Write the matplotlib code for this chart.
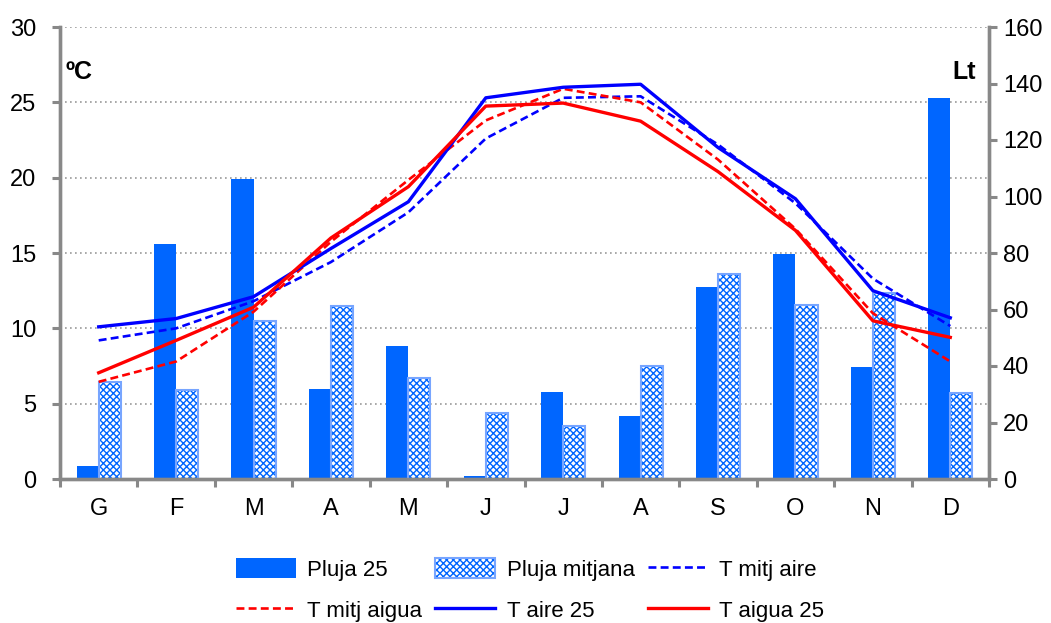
import matplotlib
matplotlib.use("Agg")
import matplotlib.pyplot as plt
import numpy as np
from matplotlib.patches import Patch
from matplotlib.lines import Line2D
from matplotlib.legend_handler import HandlerTuple

plt.rcParams['font.family'] = ['Liberation Sans Narrow', 'Liberation Sans', 'DejaVu Sans']

months = ["G", "F", "M", "A", "M", "J", "J", "A", "S", "O", "N", "D"]

pluja_25 = [4.6, 83.2, 106.2, 31.9, 47.2, 1.0, 30.8, 22.2, 68.1, 79.6, 39.6, 134.8]
pluja_mitjana = [34.4, 31.5, 55.9, 61.3, 35.7, 23.5, 18.8, 40.1, 72.6, 61.6, 65.7, 30.5]

t_mitj_aire = [9.2, 10.0, 11.8, 14.4, 17.7, 22.6, 25.3, 25.4, 22.2, 18.3, 13.3, 10.15]
t_mitj_aigua = [6.45, 7.8, 11.1, 15.75, 19.85, 23.8, 25.9, 25.0, 21.2, 16.6, 11.0, 7.8]
t_aire_25 = [10.1, 10.65, 12.1, 15.3, 18.4, 25.3, 26.0, 26.2, 22.0, 18.6, 12.5, 10.7]
t_aigua_25 = [7.05, 9.2, 11.4, 16.0, 19.4, 24.75, 24.95, 23.75, 20.4, 16.5, 10.5, 9.4]

grey = "#888888"
bar_blue = "#0066FF"
light_edge = "#77A5FF"

fig = plt.figure(figsize=(10.51, 6.23), dpi=100)
ax = fig.add_axes([60 / 1051, 1 - 479 / 623, 929 / 1051, 452 / 623])
ax2 = ax.twinx()

x = np.arange(len(months))
w = 0.285

# bars on the right (Lt) axis, drawn below the lines
ax2.bar(x - w / 2, pluja_25, width=w, color=bar_blue, edgecolor="none", zorder=2)
ax2.bar(x + w / 2, pluja_mitjana, width=w, color="white", edgecolor=bar_blue,
        hatch="xxxxx", linewidth=0, zorder=2)
ax2.bar(x + w / 2, pluja_mitjana, width=w, fill=False, edgecolor=light_edge,
        linewidth=1.5, zorder=3)
ax2.set_ylim(0, 160)
ax2.set_yticks(np.arange(0, 161, 20))

# dotted grid at the left-axis ticks
for t in np.arange(5, 31, 5):
    ax2.axhline(t * 160 / 30, color="#999999", linestyle=(0, (1, 2)), linewidth=1.2, zorder=1)

# lines on the left (ºC) axis
ax.set_zorder(ax2.get_zorder() + 1)
ax.patch.set_visible(False)
ax.plot(x, t_mitj_aire, color="#0000FF", linestyle=(0, (3, 1.6)), linewidth=1.9)
ax.plot(x, t_mitj_aigua, color="#FF0000", linestyle=(0, (3, 1.6)), linewidth=1.9)
ax.plot(x, t_aire_25, color="#0000FF", linewidth=2.4)
ax.plot(x, t_aigua_25, color="#FF0000", linewidth=2.4)

ax.set_xlim(-0.5, 11.5)
ax.set_ylim(0, 30)
ax.set_yticks(np.arange(0, 31, 5))
ax.set_xticks(x)
ax.set_xticklabels(months)
ax.set_xticks(np.arange(-0.5, 12, 1), minor=True)
ax.tick_params(axis="x", which="major", length=0, pad=14, labelsize=17)
ax.tick_params(axis="x", which="minor", length=6, width=2.2, color=grey)
ax.tick_params(axis="y", length=6, width=2.2, color=grey, labelsize=17, pad=11)
ax2.tick_params(axis="y", length=6, width=2.2, color=grey, labelsize=17, pad=4)

for a in (ax, ax2):
    a.spines["top"].set_visible(False)
    for s in ("left", "right", "bottom"):
        a.spines[s].set_color(grey)
        a.spines[s].set_linewidth(2.4)

ax.text(0.006, 0.90, "ºC", transform=ax.transAxes, fontsize=18, fontweight="bold",
        ha="left", va="center")
ax.text(0.986, 0.90, "Lt", transform=ax.transAxes, fontsize=18, fontweight="bold",
        ha="right", va="center")

h_p25 = Patch(facecolor=bar_blue, edgecolor="none", label="Pluja 25")
h_pm_fill = Patch(facecolor="white", edgecolor=bar_blue, hatch="xxxxx", linewidth=0)
h_pm_edge = Patch(fill=False, edgecolor=light_edge, linewidth=1.5)
h_tma = Line2D([], [], color="#0000FF", linestyle=(0, (3, 1.6)), linewidth=1.9)
h_tmg = Line2D([], [], color="#FF0000", linestyle=(0, (3, 1.6)), linewidth=1.9)
h_ta = Line2D([], [], color="#0000FF", linewidth=2.4)
h_tg = Line2D([], [], color="#FF0000", linewidth=2.4)
handles = [h_p25, h_tmg, (h_pm_fill, h_pm_edge), h_ta, h_tma, h_tg]
labels = ["Pluja 25", "T mitj aigua", "Pluja mitjana", "T aire 25", "T mitj aire", "T aigua 25"]
fig.legend(handles, labels, loc="center", bbox_to_anchor=(530 / 1051, 1 - 590 / 623),
           ncol=3, frameon=False, fontsize=16, handlelength=2.7, handleheight=1.0,
           columnspacing=0.6, labelspacing=0.85, handletextpad=0.5,
           handler_map={tuple: HandlerTuple(ndivide=1, pad=0)})

fig.savefig("out.png", dpi=100)
